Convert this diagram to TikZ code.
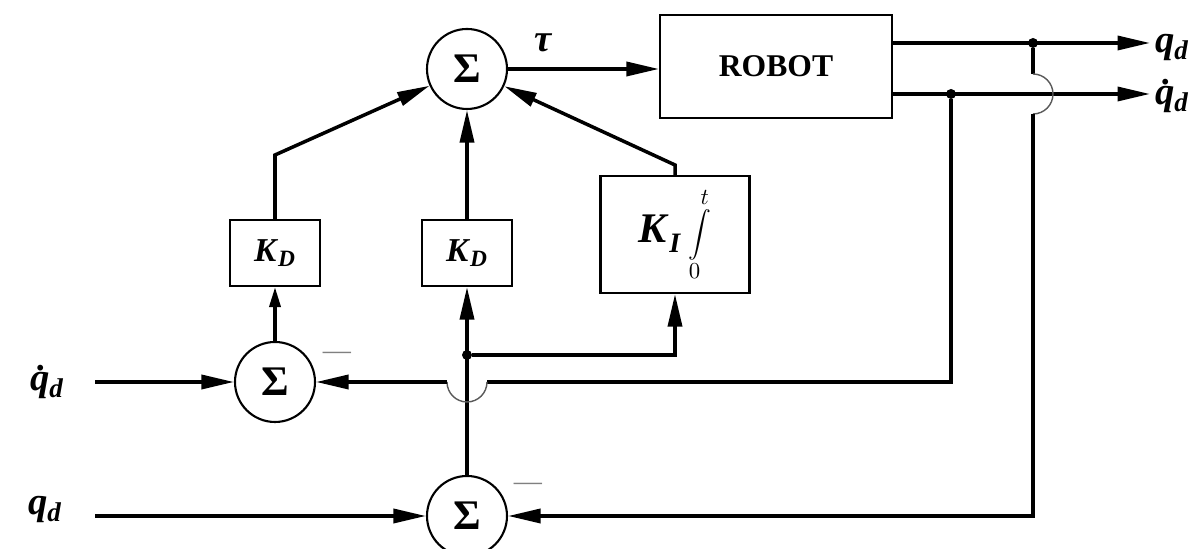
\documentclass[tikz,border=0pt]{standalone}
\usepackage{fontspec}
\setmainfont{Liberation Serif}
\usepackage{graphicx}
\usetikzlibrary{arrows.meta}

\newcommand{\bivar}[1]{\textbf{\textit{#1}}}

\begin{document}
\begin{tikzpicture}[
  >={Triangle[length=6.5mm,width=2.8mm]},
  sumnode/.style={circle, draw, line width=1.2pt, minimum size=1.6cm, inner sep=0pt, font=\fontsize{24}{26}\selectfont\bfseries},
  gainbox/.style={draw, line width=1.2pt, inner sep=0pt},
  sig/.style={line width=2pt},
  hop/.style={line width=0.8pt, gray!70!black},
  dotnode/.style={circle, fill, inner sep=0pt, minimum size=2mm},
  lbl/.style={font=\fontsize{22}{24}\selectfont\bfseries\itshape},
  minus/.style={text=gray, font=\fontsize{16}{18}\selectfont},
]
\useasboundingbox (0,0) rectangle (23.84,10.98);

\node[sumnode] (S1) at (9.34,9.6){Σ};
\node[sumnode] (S2) at (5.5,3.34){Σ};
\node[sumnode] (S3) at (9.34,0.66){Σ};

\node[gainbox, minimum width=4.64cm, minimum height=2.06cm, font=\fontsize{18}{20}\selectfont\bfseries] (robot) at (15.52,9.65){ROBOT};
\node[gainbox, minimum width=1.8cm, minimum height=1.32cm, font=\fontsize{19}{21}\selectfont] (KD1) at (5.5,5.92){\bivar{K}\textsubscript{\bivar{D}}};
\node[gainbox, minimum width=1.8cm, minimum height=1.32cm, font=\fontsize{19}{21}\selectfont] (KD2) at (9.34,5.92){\bivar{K}\textsubscript{\bivar{D}}};
\node[gainbox, minimum width=2.98cm, minimum height=2.34cm, font=\fontsize{24}{26}\selectfont] (KI) at (13.5,6.29){\bivar{K}\raisebox{-0.5ex}{\fontsize{16}{18}\selectfont\bivar{I}}\,\raisebox{-0.2ex}{\scalebox{1.3}{\fontsize{20}{22}\selectfont$\displaystyle\int\limits_{\scriptscriptstyle 0}^{\scriptscriptstyle t}$}}};

\node[lbl] (tau) at (10.86,10.12){τ};
\node[lbl] (qdin) at (0.9,0.78){q\textsubscript{d}};
\node[lbl] (qddin) at (0.94,3.34){\.{q}\textsubscript{d}};
\node[lbl] (qdout) at (23.44,10.02){q\textsubscript{d}};
\node[lbl] (qddout) at (23.44,9.06){\.{q}\textsubscript{d}};
\node[minus] (m1) at (6.74,3.86){—};
\node[minus] (m2) at (10.56,1.24){—};

\coordinate (in1) at (1.9,3.34);
\coordinate (in2) at (1.9,0.66);
\coordinate (out1) at (23.0,10.12);
\coordinate (out2) at (23.0,9.1);
\node[dotnode] (d1) at (20.66,10.12){};
\node[dotnode] (d2) at (19.02,9.1){};
\node[dotnode] (J) at (9.34,3.88){};
\coordinate (b1) at (5.5,7.88);
\coordinate (b2) at (13.5,7.68);
\coordinate (c1) at (20.66,0.66);
\coordinate (c2) at (19.02,3.34);
\coordinate (h1r) at (9.74,3.34);
\coordinate (h1l) at (8.94,3.34);
\coordinate (h2t) at (20.66,9.5);
\coordinate (h2b) at (20.66,8.7);

\draw[sig, ->] (S1.east) -- (S1.east -| robot.west);
\draw[sig, ->] (robot.east |- out1) -- (out1);
\draw[sig, ->] (robot.east |- out2) -- (out2);
\draw[sig, ->] (KD1.north) -- (b1) -- (S1);
\draw[sig, ->] (KD2.north) -- (S1.south);
\draw[sig, ->] (KI.north) -- (b2) -- (S1);
\draw[sig, {Triangle[length=4mm,width=2.2mm]}-] (KD1.south) -- (S2.north);
\draw[sig, ->] (S3.north) -- (KD2.south);
\draw[sig, ->] (J) -- (J -| KI.south) -- (KI.south);
\draw[sig, ->] (in1) -- (S2.west);
\draw[sig, ->] (in2) -- (S3.west);
\draw[sig] (d2) -- (c2) -- (h1r);
\draw[hop] (h1r) arc[start angle=0, end angle=-180, radius=0.4];
\draw[sig, ->] (h1l) -- (S2.east);
\draw[sig] (d1) -- (h2t);
\draw[hop] (h2t) arc[start angle=90, end angle=-90, radius=0.4];
\draw[sig, ->] (h2b) -- (c1) -- (S3.east);
\end{tikzpicture}
\end{document}
